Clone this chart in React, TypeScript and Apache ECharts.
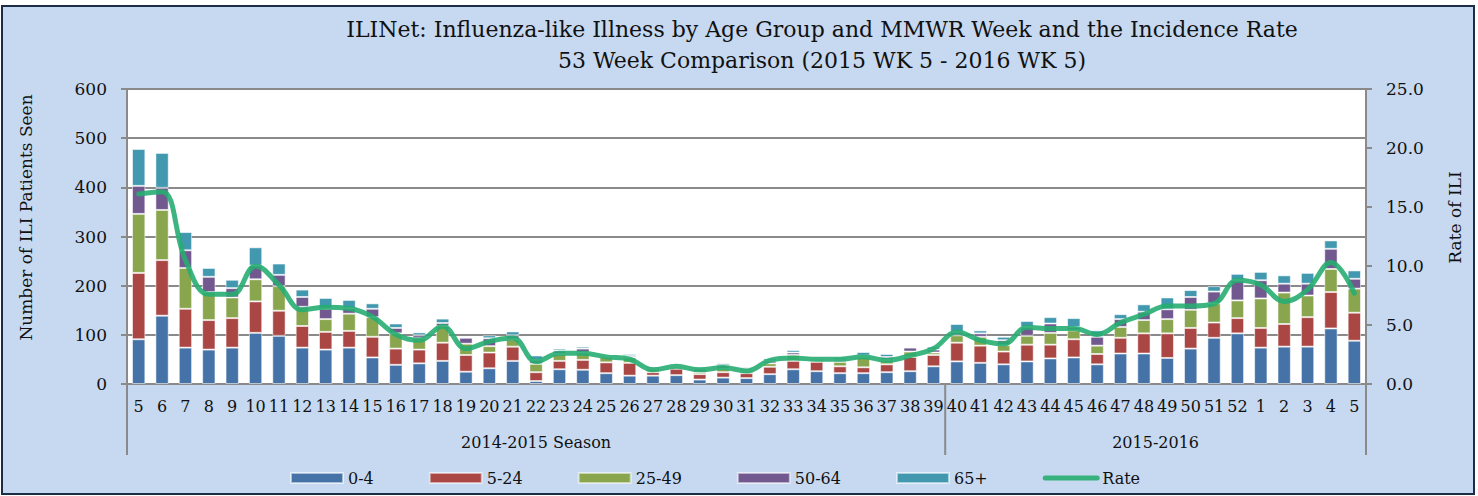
import React, { useEffect, useRef } from "react";
import * as echarts from "echarts";

const weeks = ["5","6","7","8","9","10","11","12","13","14","15","16","17","18","19","20","21","22","23","24","25","26","27","28","29","30","31","32","33","34","35","36","37","38","39","40","41","42","43","44","45","46","47","48","49","50","51","52","1","2","3","4","5"];
const seasons = ["2014-2015 Season", "2015-2016"];
const seasonLengths = [35, 18];

const age0to4 = [91,139,74,70,74,104,98,74,70,74,54,39,42,47,25,32,47,6,30,29,22,17,17,18,9,13,12,20,30,26,22,22,24,26,36,46,43,40,46,52,54,40,62,62,53,72,94,103,74,76,76,113,88];
const age5to24 = [135,113,79,60,60,64,51,44,36,34,42,33,28,37,34,32,29,18,17,20,22,26,7,13,11,11,10,15,17,19,14,12,16,29,23,38,35,26,34,28,37,21,32,41,50,42,31,31,40,46,60,74,57];
const age25to49 = [120,102,83,57,42,45,50,39,26,35,40,31,23,34,23,13,15,17,14,15,11,11,7,3,4,7,5,7,12,4,9,21,9,11,5,15,18,13,18,24,18,17,22,27,29,37,39,36,60,64,44,47,49];
const age50to64 = [57,45,36,31,19,28,23,20,21,11,17,11,6,6,12,16,8,8,7,8,1,3,4,2,7,7,4,5,5,3,4,3,6,8,6,7,7,10,18,19,7,18,16,17,20,26,24,41,37,18,24,41,20];
const age65plus = [75,71,37,18,17,37,23,15,22,17,11,9,6,9,1,6,8,9,4,4,2,4,2,2,3,4,3,5,5,3,5,7,6,2,6,16,6,7,12,13,18,13,10,15,24,14,11,13,17,17,22,17,17];
const rate = [16.1,16.3,10.5,7.6,7.6,10.0,8.4,6.3,6.5,6.4,5.7,4.2,3.7,4.9,3.0,3.6,3.9,1.9,2.6,2.6,2.3,2.1,1.2,1.5,1.2,1.4,1.1,2.0,2.2,2.1,2.1,2.3,2.0,2.4,3.0,4.4,3.7,3.4,4.8,4.7,4.7,4.2,5.2,5.9,6.6,6.6,6.8,8.8,8.4,7.0,8.0,10.3,7.7];

const leftTicks = [0, 600, 100];
const rightTicks = [0, 25, 5];

const FONT = "DejaVu Serif";
const GRID_GRAY = "#8a8a8a";
const LINE_COLOR = "#27AD72";
const colors = ["#4572A7", "#AA4643", "#89A54E", "#71588F", "#4198AF"];
const ageNames = ["0-4", "5-24", "25-49", "50-64", "65+"];
const ageSeries = [age0to4, age5to24, age25to49, age50to64, age65plus];

export default function App() {
  const ref = useRef<HTMLDivElement>(null);
  useEffect(() => {
    document.body.style.margin = "0";
    const chart = echarts.init(ref.current!, null, { renderer: "svg" });
    const cats = weeks.map((w, i) => "c" + i);
    const option: any = {
      animation: false,
      backgroundColor: "transparent",
      textStyle: { fontFamily: FONT, color: "#111" },
      title: {
        text: "ILINet: Influenza-like Illness by Age Group and MMWR Week and the Incidence Rate\n53 Week Comparison (2015 WK 5 - 2016 WK 5)",
        left: 817,
        top: 9,
        textAlign: "center",
        textStyle: { fontFamily: FONT, fontSize: 22, fontWeight: "normal", lineHeight: 31, color: "#111" },
      },
      legend: {
        left: 290,
        top: 470,
        padding: 0,
        itemWidth: 52,
        itemHeight: 10,
        itemGap: 55,
        textStyle: { fontFamily: FONT, fontSize: 16, color: "#111" },
        data: [
          ...ageNames.map((n) => ({ name: n, icon: "rect" })),
          { name: "Rate", itemStyle: { opacity: 0 }, lineStyle: { width: 5, cap: "round", color: LINE_COLOR, opacity: 0.9 } },
        ],
      },
      grid: {
        left: 127, right: 112, top: 89, bottom: 112,
        show: true, backgroundColor: "#ffffff", borderWidth: 0,
      },
      xAxis: {
        type: "category",
        data: cats,
        axisLine: { show: true, lineStyle: { color: GRID_GRAY, width: 2 } },
        axisTick: { show: false },
        axisLabel: {
          interval: 0,
          margin: 14,
          fontFamily: FONT,
          fontSize: 16,
          color: "#111",
          formatter: (_v: string, i: number) => weeks[i],
        },
      },
      yAxis: [
        {
          type: "value",
          min: leftTicks[0], max: leftTicks[1], interval: leftTicks[2],
          axisLine: { show: true, lineStyle: { color: GRID_GRAY, width: 2 } },
          axisTick: { show: true, length: 6, lineStyle: { color: GRID_GRAY, width: 2 } },
          splitLine: { show: true, lineStyle: { color: GRID_GRAY, width: 2 } },
          axisLabel: { margin: 20, fontFamily: FONT, fontSize: 17, color: "#111" },
        },
        {
          type: "value",
          position: "right",
          min: rightTicks[0], max: rightTicks[1], interval: rightTicks[2],
          axisLine: { show: true, lineStyle: { color: GRID_GRAY, width: 2 } },
          axisTick: { show: true, length: 6, lineStyle: { color: GRID_GRAY, width: 2 } },
          splitLine: { show: false },
          axisLabel: { margin: 20, fontFamily: FONT, fontSize: 17, color: "#111", formatter: (v: number) => v.toFixed(1) },
        },
      ],
      series: [
        ...ageNames.map((n, k) => ({
          name: n,
          type: "bar",
          stack: "ages",
          barWidth: "57%",
          data: ageSeries[k],
          itemStyle: { color: colors[k], borderColor: "rgba(255,255,255,0.55)", borderWidth: 1 },
        })),
        {
          name: "Rate",
          type: "line",
          yAxisIndex: 1,
          smooth: 0.4,
          symbol: "none",
          data: rate,
          z: 5,
          lineStyle: { color: LINE_COLOR, width: 5, opacity: 0.9, cap: "round", join: "round" },
          itemStyle: { color: LINE_COLOR },
        },
      ],
    };
    chart.setOption(option);

    const px = (i: number) => chart.convertToPixel({ xAxisIndex: 0 }, i) as number;
    const band = px(1) - px(0);
    const yBase = chart.convertToPixel({ yAxisIndex: 0 }, 0) as number;
    const yTop = chart.convertToPixel({ yAxisIndex: 0 }, leftTicks[1]) as number;
    const boundaries: number[] = [px(0) - band / 2];
    let acc = 0;
    seasonLengths.forEach((len) => {
      acc += len;
      boundaries.push(px(acc - 1) + band / 2);
    });
    const graphics: any[] = [];
    boundaries.forEach((bx) => {
      graphics.push({
        type: "line",
        shape: { x1: bx, y1: yBase, x2: bx, y2: yBase + 71 },
        style: { stroke: GRID_GRAY, lineWidth: 2 },
        silent: true,
      });
    });
    seasons.forEach((s, k) => {
      graphics.push({
        type: "text",
        x: (boundaries[k] + boundaries[k + 1]) / 2,
        y: yBase + 58,
        style: { text: s, fontFamily: FONT, fontSize: 16, fill: "#111", align: "center", verticalAlign: "middle" },
        silent: true,
      });
    });
    const midY = (yBase + yTop) / 2 - 19;
    graphics.push({
      type: "text",
      x: 26, y: midY, rotation: Math.PI / 2,
      style: { text: "Number of ILI Patients Seen", fontFamily: FONT, fontSize: 17, fill: "#111", align: "center", verticalAlign: "middle" },
      silent: true,
    });
    graphics.push({
      type: "text",
      x: 1455, y: midY, rotation: Math.PI / 2,
      style: { text: "Rate of ILI", fontFamily: FONT, fontSize: 17, fill: "#111", align: "center", verticalAlign: "middle" },
      silent: true,
    });
    chart.setOption({ graphic: graphics });
    return () => chart.dispose();
  }, []);
  return (
    <div style={{ position: "absolute", left: 0, top: 0, width: 1478, height: 496, background: "#ffffff" }}>
      <div style={{ position: "absolute", left: 1, top: 5, width: 1474, height: 490, background: "#C6D9F1", border: "2px solid #1d2c47", boxSizing: "border-box" }} />
      <div ref={ref} style={{ position: "absolute", left: 0, top: 0, width: 1478, height: 496 }} />
    </div>
  );
}
